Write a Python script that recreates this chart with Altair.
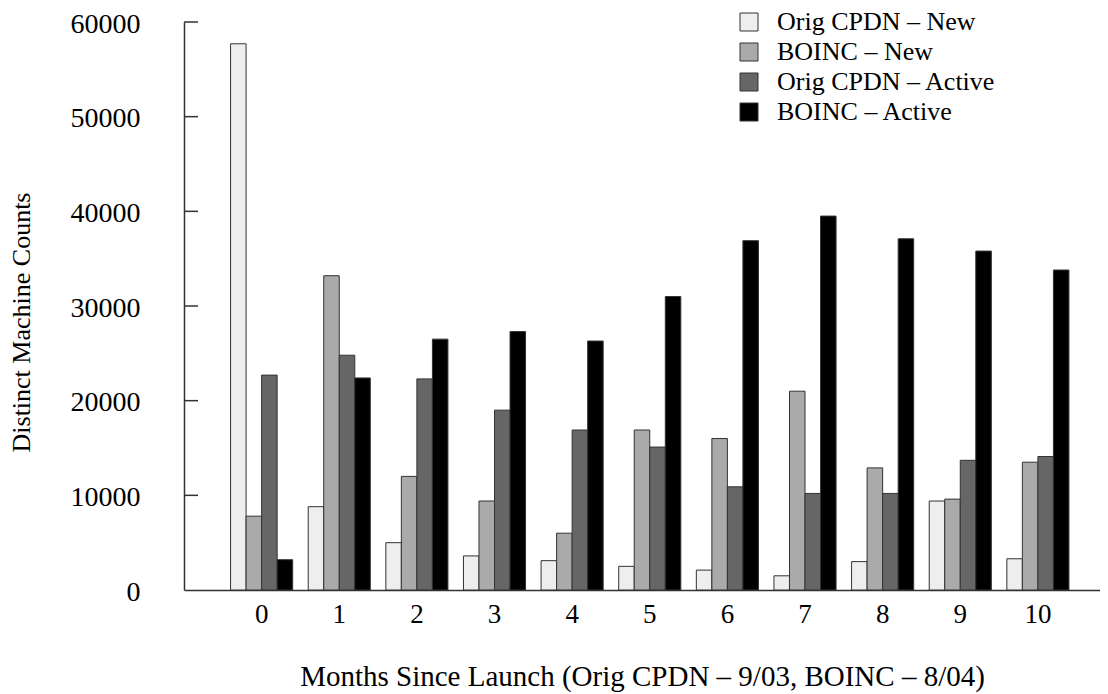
import altair as alt
import pandas as pd

months = list(range(11))
series = ["Orig CPDN – New", "BOINC – New", "Orig CPDN – Active", "BOINC – Active"]
orig_new = [57700, 8800, 5000, 3600, 3100, 2500, 2100, 1500, 3000, 9400, 3300]
boinc_new = [7800, 33200, 12000, 9400, 6000, 16900, 16000, 21000, 12900, 9600, 13500]
orig_active = [22700, 24800, 22300, 19000, 16900, 15100, 10900, 10200, 10200, 13700, 14100]
boinc_active = [3200, 22400, 26500, 27300, 26300, 31000, 36900, 39500, 37100, 35800, 33800]
colors = ["#eeeeee", "#aaaaaa", "#666666", "#000000"]
y_ticks = [0, 10000, 20000, 30000, 40000, 50000, 60000]

rows = []
for name, vals in zip(series, [orig_new, boinc_new, orig_active, boinc_active]):
    for m, v in zip(months, vals):
        rows.append({"month": m, "series": name, "value": v})
df = pd.DataFrame(rows)
tick_df = pd.DataFrame({"value": y_ticks[1:]})

FONT = "Liberation Serif"

bars = alt.Chart(df).mark_bar(stroke="#333333", strokeWidth=1).encode(
    x=alt.X(
        "month:O",
        scale=alt.Scale(paddingInner=0.2, paddingOuter=0.5, align=0.6),
        axis=alt.Axis(
            title="Months Since Launch (Orig CPDN – 9/03, BOINC – 8/04)",
            labelAngle=0, ticks=False, tickSize=0, labelPadding=11,
            labelFontSize=27, titleFontSize=29, titlePadding=35,
        ),
    ),
    xOffset=alt.XOffset("series:N", sort=series,
                        scale=alt.Scale(paddingInner=0, paddingOuter=0)),
    y=alt.Y(
        "value:Q",
        scale=alt.Scale(domain=[0, 60000], nice=False),
        axis=alt.Axis(
            title="Distinct Machine Counts",
            values=y_ticks, format="d", ticks=False, tickSize=0,
            labelPadding=44, labelOffset=2, grid=False,
            labelFontSize=28, titleFontSize=26,
            titleAngle=270, titleX=-163, titleY=300,
            titleAlign="center", titleBaseline="middle",
        ),
    ),
    color=alt.Color(
        "series:N", sort=series,
        scale=alt.Scale(domain=series, range=colors),
        legend=alt.Legend(
            title=None, orient="none", legendX=552, legendY=-13,
            symbolType="square", symbolSize=324,
            symbolStrokeColor="#333333", symbolStrokeWidth=1,
            labelFont=FONT, labelFontSize=26, labelColor="#000000",
            labelLimit=400, labelOffset=15, rowPadding=4, symbolOpacity=1,
        ),
    ),
)

ticks = alt.Chart(tick_df).mark_rule(color="#333333", strokeWidth=1.5).encode(
    y="value:Q",
    x=alt.value(0),
    x2=alt.value(14),
)

chart = alt.layer(bars, ticks).properties(
    width=916,
    height=568,
    autosize=alt.AutoSizeParams(type="none"),
    padding={"left": 176, "top": 14, "right": 0, "bottom": 104},
    background="white",
).configure_view(stroke=None).configure_axis(
    labelFont=FONT, labelColor="#000000",
    titleFont=FONT, titleFontWeight="normal", titleColor="#000000",
    domainColor="#333333", domainWidth=1.5,
)

chart.save("out.html", embed_options={"renderer": "svg", "actions": False})
